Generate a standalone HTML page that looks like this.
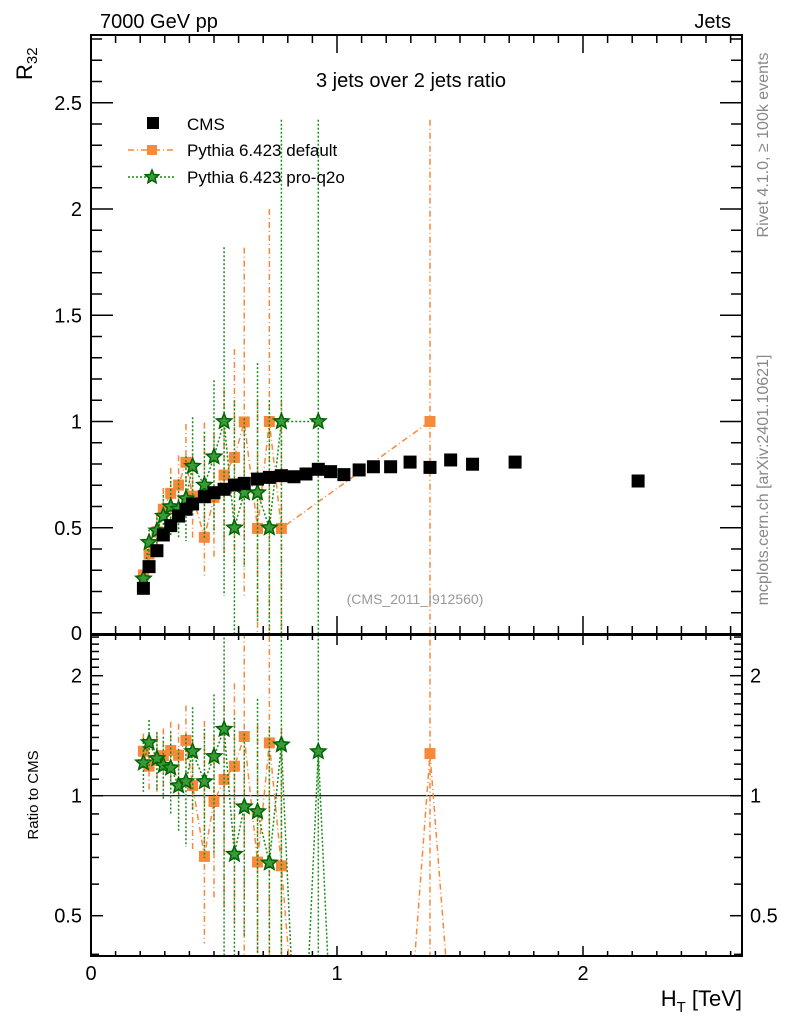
<!DOCTYPE html>
<html><head><meta charset="utf-8"><style>
html,body{margin:0;background:#fff;overflow:hidden;width:786px;height:1024px;}
svg{display:block;font-family:"Liberation Sans",sans-serif;}
</style></head><body>
<svg id="chart" width="786" height="1024" viewBox="0 0 786 1024">
<defs>
<clipPath id="clipMain"><rect x="91" y="35" width="651" height="599"/></clipPath>
<clipPath id="clipRatio"><rect x="91" y="635" width="651" height="321"/></clipPath>
</defs>
<g id="axes"></g>
<g id="mainMarks" clip-path="url(#clipMain)"></g>
<g id="ratioMarks" clip-path="url(#clipRatio)"></g>
<rect x="91" y="35" width="651" height="599" fill="none" stroke="#000" stroke-width="2"/>
<rect x="91" y="635" width="651" height="321" fill="none" stroke="#000" stroke-width="2"/>
<text x="100" y="28" font-size="20">7000 GeV pp</text>
<text x="731" y="28" font-size="20" text-anchor="end">Jets</text>
<text x="411" y="87" font-size="20" text-anchor="middle">3 jets over 2 jets ratio</text>
<text transform="translate(32,80) rotate(-90)" font-size="22">R<tspan font-size="15" dy="5">32</tspan></text>
<text transform="translate(38,795) rotate(-90)" font-size="15" text-anchor="middle">Ratio to CMS</text>
<text x="742" y="1006" font-size="22" text-anchor="end">H<tspan font-size="15" dy="6">T</tspan><tspan dy="-6"> [TeV]</tspan></text>
<text x="415" y="604" font-size="14" fill="#999" text-anchor="middle">(CMS_2011_I912560)</text>
<text transform="translate(768,145) rotate(-90)" font-size="16" fill="#888" text-anchor="middle">Rivet 4.1.0, ≥ 100k events</text>
<text transform="translate(768,480) rotate(-90)" font-size="16" fill="#888" text-anchor="middle">mcplots.cern.ch [arXiv:2401.10621]</text>
<g>
<rect x="147" y="117" width="12" height="12" fill="#000"/>
<text x="187" y="130" font-size="17">CMS</text>
<line x1="128" y1="150" x2="176" y2="150" stroke="#f7893b" stroke-width="1.5" stroke-dasharray="6,3,1,3"/>
<rect x="147" y="145" width="10" height="10" fill="#f7893b"/>
<text x="187" y="156" font-size="17">Pythia 6.423 default</text>
<line x1="128" y1="177" x2="176" y2="177" stroke="#1a8a1a" stroke-width="1.5" stroke-dasharray="2,2"/>
<polygon id="legStar" fill="#3a9a3a" stroke="#006400" stroke-width="1.5"/>
<text x="187" y="183" font-size="17">Pythia 6.423 pro-q2o</text>
</g>
</svg>
<script>
const htBins=[0.213,0.236,0.268,0.294,0.324,0.356,0.386,0.413,0.461,0.5,0.541,0.583,0.623,0.677,0.725,0.774,0.825,0.874,0.924,0.974,1.028,1.09,1.148,1.218,1.297,1.378,1.462,1.551,1.724,2.224];
const cmsVals=[0.215,0.317,0.392,0.466,0.51,0.555,0.587,0.612,0.646,0.665,0.681,0.701,0.709,0.729,0.737,0.745,0.74,0.753,0.775,0.764,0.75,0.772,0.787,0.787,0.809,0.784,0.819,0.799,0.809,0.72];
const defVals=[0.278,0.376,0.481,0.587,0.662,0.701,0.808,0.649,0.455,0.643,0.748,0.831,0.998,0.497,1.0,0.497,0,0,0,0,0,0,0,0,0,1.0,0,0,0,0];
const defUp=[0.03,0.05,0.08,0.1,0.12,0.14,0.18,0.2,0.54,0.3,0.4,0.51,0.82,0.6,1.0,0.6,0,0,0,0,0,0,0,0,0,1.42,0,0,0,0];
const defDn=[0.03,0.05,0.08,0.1,0.12,0.14,0.18,0.2,0.18,0.28,0.4,0.5,0.82,0.5,1.0,0.5,0,0,0,0,0,0,0,0,0,1.0,0,0,0,0];
const q2oVals=[0.26,0.431,0.486,0.555,0.599,0.588,0.637,0.79,0.701,0.834,1.0,0.5,0.665,0.665,0.5,1.0,0,0,1.0,0,0,0,0,0,0,0,0,0,0,0];
const q2oUp=[0.04,0.06,0.08,0.1,0.14,0.14,0.2,0.23,0.25,0.36,0.82,0.6,0.35,0.61,0.6,1.42,0,0,1.42,0,0,0,0,0,0,0,0,0,0,0];
const q2oDn=[0.04,0.06,0.08,0.1,0.14,0.14,0.2,0.23,0.25,0.36,0.82,0.5,0.35,0.61,0.5,1.0,0,0,1.0,0,0,0,0,0,0,0,0,0,0,0];
const mainTicks=["0.5","1","1.5","2","2.5"];
const mainTickVals=[0.5,1,1.5,2,2.5];
const ratioTickVals=[0.5,1,2];
const xTickVals=[0,1,2];

const NS="http://www.w3.org/2000/svg";
const LOW=1020;
const X=v=>91+v*246;
const Y=v=>634-v*212.5;
const RY=v=>Math.min(795.7-Math.log2(v)*120,LOW);
function mk(tag,attrs,parent){const e=document.createElementNS(NS,tag);for(const k in attrs)e.setAttribute(k,attrs[k]);parent.appendChild(e);return e;}
function starPts(cx,cy,r){let p=[];for(let i=0;i<10;i++){const a=-Math.PI/2+i*Math.PI/5;const rr=i%2?r*0.45:r;p.push((cx+rr*Math.cos(a)).toFixed(1)+","+(cy+rr*Math.sin(a)).toFixed(1));}return p.join(" ");}
document.getElementById('legStar').setAttribute('points',starPts(152,177,7));

const ax=document.getElementById('axes');
for(let i=0;i<=26;i++){const v=i/10;const x=X(v);if(x>742)break;const maj=i%10===0;
 let t=mk('line',{x1:x,y1:634,x2:x,y2:634-(maj?18:8),stroke:'#000','stroke-width':1.5},ax);
 
 t=mk('line',{x1:x,y1:35,x2:x,y2:35+(maj?18:8),stroke:'#000','stroke-width':1.5},ax);
 
 t=mk('line',{x1:x,y1:956,x2:x,y2:956-(maj?10:5),stroke:'#000','stroke-width':1.5},ax);
 
 t=mk('line',{x1:x,y1:635,x2:x,y2:635+(maj?10:5),stroke:'#000','stroke-width':1.5},ax);
 
}
xTickVals.forEach(v=>{const t=mk('text',{x:X(v),y:980,'font-size':20,'text-anchor':'middle'},ax);t.textContent=String(v);
 });
for(let i=0;i<=28;i++){const v=i/10;const y=Y(v);const maj=i%5===0;
 let t=mk('line',{x1:91,y1:y,x2:91+(maj?22:11),y2:y,stroke:'#000','stroke-width':1.5},ax);
 
 t=mk('line',{x1:742,y1:y,x2:742-(maj?22:11),y2:y,stroke:'#000','stroke-width':1.5},ax);
 }
mainTickVals.forEach((v,i)=>{const t=mk('text',{x:82,y:Y(v)+7,'font-size':20,'text-anchor':'end'},ax);t.textContent=mainTicks[i];
 });
let z=mk('text',{x:82,y:640,'font-size':20,'text-anchor':'end'},ax);z.textContent="0";

[0.4,0.5,0.6,0.7,0.8,0.9,1,1.1,1.2,1.3,1.4,1.5,1.6,1.7,1.8,1.9,2,2.1,2.2,2.3,2.4,2.5].forEach(v=>{const y=RY(v);const maj=ratioTickVals.includes(v);
 let t=mk('line',{x1:91,y1:y,x2:91+(maj?12:8),y2:y,stroke:'#000','stroke-width':1.5},ax);
 
 t=mk('line',{x1:742,y1:y,x2:742-(maj?12:8),y2:y,stroke:'#000','stroke-width':1.5},ax);
 });
ratioTickVals.forEach(v=>{let t=mk('text',{x:82,y:RY(v)+7,'font-size':20,'text-anchor':'end'},ax);t.textContent=String(v);
 
 t=mk('text',{x:750,y:RY(v)+7,'font-size':20},ax);t.textContent=String(v);
 });
let one=mk('line',{x1:91,y1:RY(1),x2:742,y2:RY(1),stroke:'#000','stroke-width':1.2},ax);


const mg=document.getElementById('mainMarks');
const rg=document.getElementById('ratioMarks');
function drawSeries(vals,up,dn,color,dash,marker,name){
 let pts=[];vals.forEach((v,i)=>{if(v>0)pts.push(X(htBins[i])+","+Y(v));});
 let l=mk('polyline',{points:pts.join(" "),fill:'none',stroke:color,'stroke-width':1.5,'stroke-dasharray':dash},mg);
 
 let rp=[];vals.forEach((v,i)=>{const r=v/cmsVals[i];rp.push(X(htBins[i])+","+(r>0?RY(r):LOW));});
 l=mk('polyline',{points:rp.join(" "),fill:'none',stroke:color,'stroke-width':1.5,'stroke-dasharray':dash},rg);
 
 vals.forEach((v,i)=>{if(!(v>0))return;const x=X(htBins[i]);
  let e=mk('line',{x1:x,y1:Y(v+up[i]),x2:x,y2:Y(Math.max(v-dn[i],-0.1)),stroke:color,'stroke-width':1.5,'stroke-dasharray':dash},mg);
  
  const c=cmsVals[i];const lo=(v-dn[i])/c;
  e=mk('line',{x1:x,y1:RY((v+up[i])/c),x2:x,y2:lo>0.01?RY(lo):LOW,stroke:color,'stroke-width':1.5,'stroke-dasharray':dash},rg);
  
  [[mg,Y(v)],[rg,RY(v/c)]].forEach(([g,y])=>{let m;
   if(marker==='sq'){m=mk('rect',{x:x-5.5,y:y-5.5,width:11,height:11,fill:color},g);}
   else{m=mk('polygon',{points:starPts(x,y,8),fill:'#3a9a3a',stroke:'#006400','stroke-width':1.5},g);}
   });
 });
}
drawSeries(defVals,defUp,defDn,'#f7893b','6,3,1,3','sq','pythia-default');
drawSeries(q2oVals,q2oUp,q2oDn,'#1a8a1a','2,2','star','pythia-proq2o');
cmsVals.forEach((v,i)=>{const m=mk('rect',{x:X(htBins[i])-6.5,y:Y(v)-6.5,width:13,height:13,fill:'#000'},mg);
 });
</script>
</body></html>
